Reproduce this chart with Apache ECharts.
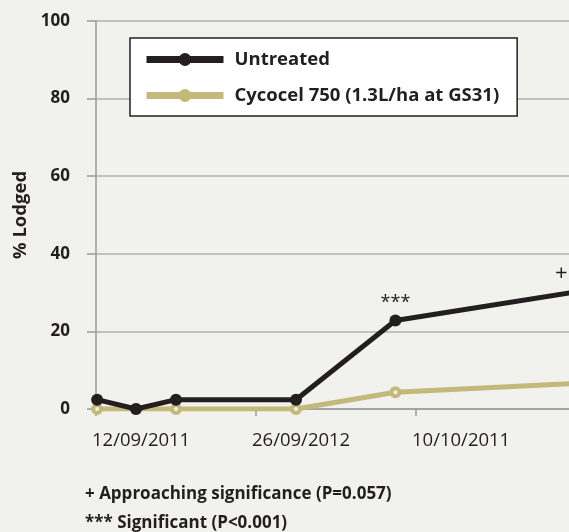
<!DOCTYPE html>
<html>
<head>
<meta charset="utf-8">
<script src="https://cdn.jsdelivr.net/npm/echarts@6/dist/echarts.min.js"></script>
<style>
html,body{margin:0;padding:0;background:#f1f1ed;}
#chart{width:569px;height:532px;}
</style>
</head>
<body>
<div id="chart"></div>
<script>
// Data (x in days from first assessment)
var xDays = [0.1, 3.5, 7, 17.5, 26.2, 42.2];
var untreated = [2.4, 0, 2.4, 2.4, 22.8, 30.3];
var cycocel = [0, 0, 0, 0, 4.3, 6.6];
var significance = ['', '', '', '', '***', '+'];
var tickLabels = ['12/09/2011', '26/09/2012', '10/10/2011', ''];
var seriesNames = ['Untreated', 'Cycocel 750 (1.3L/ha at GS31)'];
var footnotes = ['+ Approaching significance (P=0.057)', '*** Significant (P<0.001)'];

var FONT = '"Open Sans", "Noto Sans", sans-serif';
var DARK = '#231f20';
var GOLD = '#c3b97a';

function pairs(ys, withLabels) {
  return ys.map(function (y, i) {
    var item = { value: [xDays[i], y] };
    if (withLabels && significance[i]) {
      var plus = significance[i] === '+';
      item.label = {
        show: true,
        position: 'top',
        distance: plus ? 1 : 3,
        formatter: significance[i],
        fontFamily: FONT,
        fontSize: plus ? 22 : 18,
        color: DARK,
        offset: plus ? [-17, 0] : [0, 0]
      };
    }
    return item;
  });
}

var chart = echarts.init(document.getElementById('chart'));
chart.setOption({
  backgroundColor: '#f1f1ed',
  animation: false,
  grid: { left: 96, top: 21, bottom: 123, right: -167, outerBoundsMode: 'none', containLabel: false },
  legend: {
    left: 130, top: 38,
    orient: 'vertical',
    backgroundColor: '#ffffff',
    borderColor: '#231f20',
    borderWidth: 1.5,
    padding: [12, 18, 11, 13],
    itemWidth: 77,
    itemHeight: 16,
    itemGap: 17,
    lineStyle: { width: 7 },
    textStyle: { fontFamily: FONT, fontSize: 18.5, fontWeight: 'bold', color: DARK, padding: [0, 0, 0, 6] },
    data: [
      { name: seriesNames[0] },
      { name: seriesNames[1], itemStyle: { color: GOLD, borderColor: GOLD, borderWidth: 0 } }
    ]
  },
  xAxis: {
    type: 'value',
    min: 0, max: 56, interval: 14,
    axisLine: { show: true, lineStyle: { color: '#9a9a9a', width: 1.5 } },
    axisTick: { show: true, length: 7, lineStyle: { color: '#9a9a9a', width: 1.5 } },
    splitLine: { show: false },
    axisLabel: {
      margin: 22,
      align: 'left',
      padding: [0, 0, 0, -4],
      fontFamily: FONT, fontSize: 18.5, color: DARK,
      formatter: function (v) { return tickLabels[Math.round(v / 14)] || ''; }
    }
  },
  yAxis: {
    type: 'value',
    min: 0, max: 100, interval: 20,
    name: '% Lodged',
    nameLocation: 'middle',
    nameGap: 63,
    nameTextStyle: { fontFamily: FONT, fontSize: 18.5, fontWeight: 'bold', color: DARK },
    axisLine: { show: true, lineStyle: { color: '#9a9a9a', width: 1.5 } },
    axisTick: { show: true, length: 9, lineStyle: { color: '#9a9a9a', width: 1.5 } },
    splitLine: { show: true, lineStyle: { color: '#b0b0b0', width: 1.5 } },
    axisLabel: { margin: 26, fontFamily: FONT, fontSize: 17, fontWeight: 'bold', color: DARK }
  },
  series: [
    {
      name: seriesNames[0], type: 'line', z: 3,
      data: pairs(untreated, true),
      symbol: 'circle', symbolSize: 12,
      lineStyle: { color: DARK, width: 5 },
      itemStyle: { color: DARK }
    },
    {
      name: seriesNames[1], type: 'line', z: 2,
      data: pairs(cycocel, false),
      symbol: 'circle', symbolSize: 8,
      lineStyle: { color: GOLD, width: 5 },
      itemStyle: { color: '#f4f2e6', borderColor: GOLD, borderWidth: 4 }
    }
  ],
  graphic: [
    { type: 'text', left: 85, top: 486, style: { text: footnotes[0], fontFamily: FONT, fontSize: 17, fontWeight: 'bold', fill: DARK } },
    { type: 'text', left: 85, top: 515, style: { text: footnotes[1], fontFamily: FONT, fontSize: 17, fontWeight: 'bold', fill: DARK } }
  ]
});
</script>
</body>
</html>
